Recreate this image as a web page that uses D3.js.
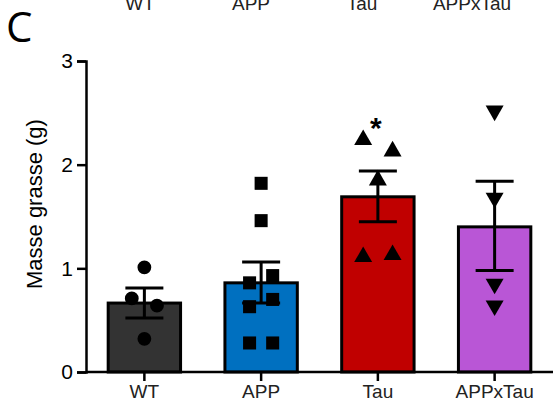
<!DOCTYPE html>
<html>
<head>
<meta charset="utf-8">
<script src="https://cdn.jsdelivr.net/npm/d3@7"></script>
<style>
  body { margin: 0; background: #fff; }
  text { font-family: "Liberation Sans", Arial, sans-serif; }
</style>
</head>
<body>
<script>
const groups = ["WT", "APP", "Tau", "APPxTau"]
const means = [0.665, 0.86, 1.69, 1.40]
const semLow = [0.52, 0.665, 1.45, 0.98]
const semHigh = [0.81, 1.06, 1.94, 1.84]
const colors = ["#333333", "#0070c0", "#c00000", "#b956d6"]
const shapes = [d3.symbolCircle, d3.symbolSquare, d3.symbolTriangle, "down"]
// individual animals: [x offset in band units, value]
const pointsWT = [[0, 1.01], [-0.12, 0.71], [0.12, 0.64], [0, 0.32]]
const pointsAPP = [[0, 1.82], [0, 1.46], [-0.11, 0.86], [0.11, 0.93], [-0.11, 0.63], [0.11, 0.70], [-0.11, 0.28], [0.11, 0.28]]
const pointsTau = [[-0.14, 2.24], [0.14, 2.13], [0, 1.85], [-0.14, 1.11], [0.14, 1.13]]
const pointsAPPxTau = [[0, 2.52], [0, 1.68], [0, 0.85], [0, 0.64]]
const allPoints = [pointsWT, pointsAPP, pointsTau, pointsAPPxTau]
const yTicks = [0, 1, 2, 3]

const width = 555, height = 410

const svg = d3.select("body").append("svg")
    .attr("width", width)
    .attr("height", height)

const x = d3.scaleBand().domain(groups).range([86, 553]).paddingInner(0.38).paddingOuter(0.19)
const y = d3.scaleLinear().domain([0, 3]).range([372, 61])
const bw = x.bandwidth()
const cx = g => x(g) + bw / 2

// cut-off header labels from the panel above
svg.append("g").selectAll("text").data(groups).enter().append("text")
    .attr("x", (d, i) => [140, 251, 362, 472][i])
    .attr("y", 10)
    .attr("text-anchor", "middle")
    .attr("font-family", "'DejaVu Sans', sans-serif")
    .attr("font-size", 19)
    .attr("fill", "#222")
    .text(d => d)

svg.append("text")
    .attr("x", 6).attr("y", 42)
    .style("font-family", "'Open Sans', sans-serif")
    .attr("font-size", 42)
    .text("C")

// bars
svg.append("g").selectAll("rect").data(groups).enter().append("rect")
    .attr("x", d => x(d))
    .attr("y", (d, i) => y(means[i]))
    .attr("width", bw)
    .attr("height", (d, i) => y(0) - y(means[i]))
    .attr("fill", (d, i) => colors[i])
    .attr("stroke", "#000")
    .attr("stroke-width", 3)

// error bars
const eb = svg.append("g").attr("stroke", "#000").attr("stroke-width", 3)
groups.forEach((g, i) => {
    eb.append("line").attr("x1", cx(g)).attr("x2", cx(g)).attr("y1", y(semLow[i])).attr("y2", y(semHigh[i]))
    eb.append("line").attr("x1", cx(g) - 19).attr("x2", cx(g) + 19).attr("y1", y(semLow[i])).attr("y2", y(semLow[i]))
    eb.append("line").attr("x1", cx(g) - 19).attr("x2", cx(g) + 19).attr("y1", y(semHigh[i])).attr("y2", y(semHigh[i]))
})

// points
const pts = svg.append("g")
groups.forEach((g, i) => {
    const shape = shapes[i]
    const sym = shape === "down" ? d3.symbolTriangle : shape
    const size = shape === d3.symbolCircle ? 150 : shape === d3.symbolSquare ? 170 : 140
    pts.selectAll(null).data(allPoints[i]).enter().append("path")
        .attr("d", d3.symbol().type(sym).size(size))
        .attr("transform", d => `translate(${cx(g) + d[0] * bw * 1.45},${y(d[1])})` + (shape === "down" ? " rotate(180)" : ""))
        .attr("fill", "#000")
})

// significance star
svg.append("text")
    .attr("x", cx("Tau") - 2).attr("y", 138)
    .attr("text-anchor", "middle")
    .attr("font-size", 30)
    .attr("font-weight", "bold")
    .text("*")

// axes
const yAxis = svg.append("g").attr("transform", "translate(86,0)")
    .call(d3.axisLeft(y).tickValues(yTicks).tickSize(9).tickPadding(4).tickFormat(d3.format("d")))
const xAxis = svg.append("g").attr("transform", "translate(0,372)")
    .call(d3.axisBottom(x).tickSize(9).tickPadding(4).tickSizeOuter(0))
xAxis.select(".domain").attr("d", "M86,0H553")
for (const a of [yAxis, xAxis]) {
    a.selectAll("path, line").attr("stroke", "#000").attr("stroke-width", 2.5)
    a.selectAll("text").attr("font-size", 21).attr("fill", "#000")
}
xAxis.selectAll("text").attr("font-family", "'DejaVu Sans', sans-serif").attr("font-size", 19).attr("fill", "#222")

svg.append("text")
    .attr("transform", `translate(42,${y(1.62)}) rotate(-90)`)
    .attr("text-anchor", "middle")
    .attr("font-size", 22)
    .text("Masse grasse (g)")
</script>
</body>
</html>
